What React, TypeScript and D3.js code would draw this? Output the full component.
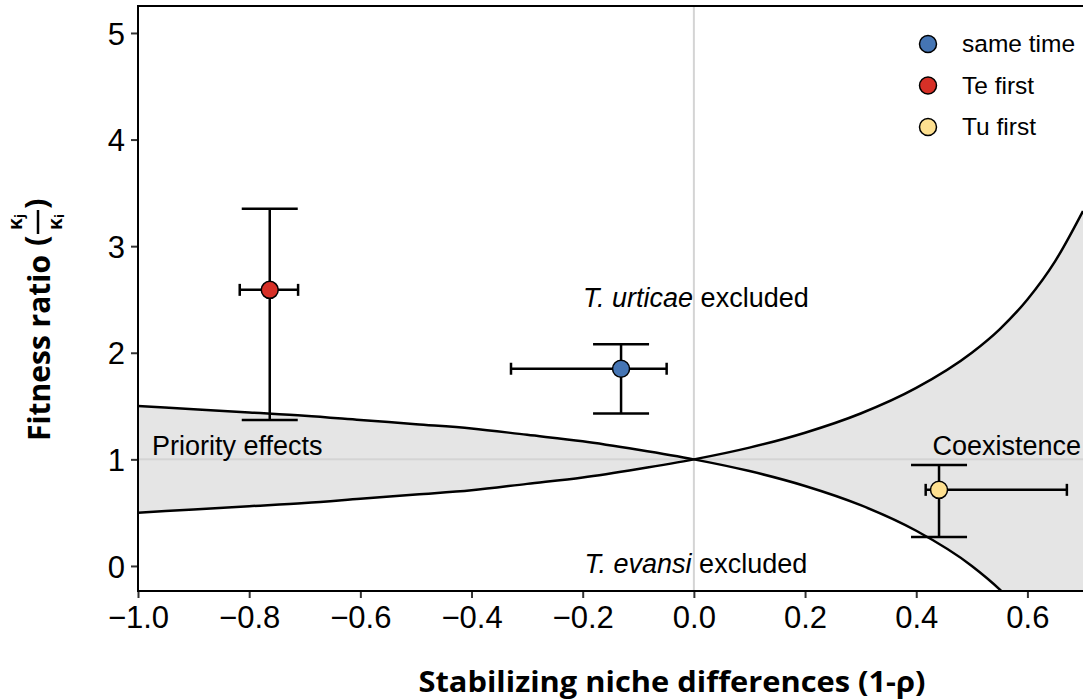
import { useEffect, useRef } from 'react';
import * as d3 from 'd3';

// boundary curves (x = 1-rho)
const boundaryX = [-1, -0.9, -0.8, -0.7, -0.6, -0.5, -0.4, -0.3, -0.2, -0.1, 0, 0.1, 0.2, 0.3, 0.4, 0.5, 0.55, 0.6, 0.65, 0.7];
const risingY = [0.5, 0.53, 0.56, 0.59, 0.63, 0.67, 0.71, 0.77, 0.83, 0.91, 1.0, 1.11, 1.25, 1.43, 1.67, 2.0, 2.22, 2.5, 2.86, 3.33];
const fallingY = [1.5, 1.47, 1.44, 1.41, 1.37, 1.33, 1.29, 1.23, 1.17, 1.09, 1.0, 0.89, 0.75, 0.57, 0.33, 0.0, -0.22, -0.5, -0.86, -1.33];

// treatments
const treatments = ['same time', 'Te first', 'Tu first'];
const colors = ['#4575b4', '#d73027', '#fee090'];
const niche = [-0.131, -0.763, 0.441];
const nicheLo = [-0.329, -0.817, 0.417];
const nicheHi = [-0.049, -0.712, 0.671];
const fitness = [1.85, 2.59, 0.714];
const fitnessLo = [1.43, 1.37, 0.272];
const fitnessHi = [2.08, 3.35, 0.948];

const xTicks = [-1.0, -0.8, -0.6, -0.4, -0.2, 0.0, 0.2, 0.4, 0.6];
const yTicks = [0, 1, 2, 3, 4, 5];

export default function App() {
  const svgRef = useRef<SVGSVGElement>(null);

  useEffect(() => {
    if (!svgRef.current) return;
    const svg = d3.select(svgRef.current);
    svg.selectAll('*').remove();

    const W = 1083, H = 700;
    const left = 138, right = 1083, top = 6, bottom = 591;
    svg.attr('width', W).attr('height', H);

    const x = d3.scaleLinear().domain([-1, 0.7]).range([left, right]);
    const y = d3.scaleLinear().domain([-0.235, 5.253]).range([bottom, top]);

    svg.append('defs').append('clipPath').attr('id', 'plot-clip')
      .append('rect').attr('x', left).attr('y', top)
      .attr('width', right - left).attr('height', bottom - top);

    const plot = svg.append('g').attr('clip-path', 'url(#plot-clip)');

    const pts = boundaryX.map((bx, i) => ({ x: bx, a: risingY[i], b: fallingY[i] }));

    // shaded regions between the two boundaries
    const area = d3.area<{ x: number; a: number; b: number }>()
      .x(d => x(d.x)).y0(d => y(d.a)).y1(d => y(d.b))
      .curve(d3.curveMonotoneX);
    plot.append('path').datum(pts).attr('d', area).attr('fill', '#e5e5e5');

    // reference lines
    plot.append('line')
      .attr('x1', x(0)).attr('x2', x(0)).attr('y1', top).attr('y2', bottom)
      .attr('stroke', '#d4d4d4').attr('stroke-width', 2);
    plot.append('line')
      .attr('x1', left).attr('x2', right).attr('y1', y(1)).attr('y2', y(1))
      .attr('stroke', '#d4d4d4').attr('stroke-width', 2);

    const lineA = d3.line<{ x: number; a: number; b: number }>()
      .x(d => x(d.x)).y(d => y(d.a)).curve(d3.curveMonotoneX);
    const lineB = d3.line<{ x: number; a: number; b: number }>()
      .x(d => x(d.x)).y(d => y(d.b)).curve(d3.curveMonotoneX);
    plot.append('path').datum(pts).attr('d', lineA)
      .attr('fill', 'none').attr('stroke', '#000').attr('stroke-width', 2.5);
    plot.append('path').datum(pts).attr('d', lineB)
      .attr('fill', 'none').attr('stroke', '#000').attr('stroke-width', 2.5);

    // annotations
    const annFont = '"Liberation Sans", Arial, Helvetica, sans-serif';
    const t1 = svg.append('text').attr('x', x(0) + 2).attr('y', 307)
      .attr('text-anchor', 'middle').attr('font-family', annFont).attr('font-size', 27);
    t1.append('tspan').attr('font-style', 'italic').text('T. urticae');
    t1.append('tspan').text(' excluded');
    const t2 = svg.append('text').attr('x', x(0) + 2).attr('y', 573)
      .attr('text-anchor', 'middle').attr('font-family', annFont).attr('font-size', 27);
    t2.append('tspan').attr('font-style', 'italic').text('T. evansi');
    t2.append('tspan').text(' excluded');
    svg.append('text').attr('x', 152).attr('y', 455)
      .attr('font-family', annFont).attr('font-size', 27).text('Priority effects');
    svg.append('text').attr('x', 1081).attr('y', 455).attr('text-anchor', 'end')
      .attr('font-family', annFont).attr('font-size', 27).text('Coexistence');

    // error bars and points
    const idx = d3.range(treatments.length);
    const eb = plot.append('g').attr('stroke', '#000').attr('stroke-width', 2.5);
    idx.forEach(i => {
      const cx = x(niche[i]), cy = y(fitness[i]);
      eb.append('line').attr('x1', cx).attr('x2', cx).attr('y1', y(fitnessLo[i])).attr('y2', y(fitnessHi[i]));
      eb.append('line').attr('x1', cx - 28).attr('x2', cx + 28).attr('y1', y(fitnessLo[i])).attr('y2', y(fitnessLo[i]));
      eb.append('line').attr('x1', cx - 28).attr('x2', cx + 28).attr('y1', y(fitnessHi[i])).attr('y2', y(fitnessHi[i]));
      eb.append('line').attr('x1', x(nicheLo[i])).attr('x2', x(nicheHi[i])).attr('y1', cy).attr('y2', cy);
      eb.append('line').attr('x1', x(nicheLo[i])).attr('x2', x(nicheLo[i])).attr('y1', cy - 6).attr('y2', cy + 6);
      eb.append('line').attr('x1', x(nicheHi[i])).attr('x2', x(nicheHi[i])).attr('y1', cy - 6).attr('y2', cy + 6);
    });
    plot.append('g').selectAll('circle').data(idx).join('circle')
      .attr('cx', i => x(niche[i])).attr('cy', i => y(fitness[i])).attr('r', 8.5)
      .attr('fill', i => colors[i]).attr('stroke', '#000').attr('stroke-width', 1.5);

    // axes
    const tickFont = '"Liberation Sans", Arial, Helvetica, sans-serif';
    const gx = svg.append('g').attr('transform', `translate(0,${bottom})`)
      .call(d3.axisBottom(x).tickValues(xTicks).tickSize(7).tickPadding(8)
        .tickFormat(d => d3.format('.1f')(d as number).replace('-', '\u2013')));
    gx.select('.domain').remove();
    gx.selectAll('.tick line').attr('stroke', '#333').attr('stroke-width', 2);
    gx.selectAll('.tick text').attr('font-family', tickFont).attr('font-size', 31).attr('fill', '#000');

    const gy = svg.append('g').attr('transform', `translate(${left},0)`)
      .call(d3.axisLeft(y).tickValues(yTicks).tickSize(7).tickPadding(6)
        .tickFormat(d => d3.format('d')(d as number)));
    gy.select('.domain').remove();
    gy.selectAll('.tick line').attr('stroke', '#333').attr('stroke-width', 2);
    gy.selectAll('.tick text').attr('font-family', tickFont).attr('font-size', 31)
      .attr('fill', '#000').attr('dy', '0.36em');

    // panel border
    svg.append('rect').attr('x', left).attr('y', top)
      .attr('width', right - left + 2).attr('height', bottom - top)
      .attr('fill', 'none').attr('stroke', '#000').attr('stroke-width', 2);

    // axis titles
    const titleFont = '"Open Sans", "Noto Sans", sans-serif';
    svg.append('text').attr('x', 672).attr('y', 692).attr('text-anchor', 'middle')
      .attr('font-family', titleFont).attr('font-weight', 700).attr('font-size', 29)
      .attr('textLength', 507).attr('lengthAdjust', 'spacingAndGlyphs')
      .text('Stabilizing niche differences (1-\u03c1)');

    const yt = svg.append('g').attr('transform', 'translate(50,441) rotate(-90)')
      .attr('font-family', titleFont).attr('font-weight', 700).attr('fill', '#000');
    yt.append('text').attr('x', 0).attr('y', 0).attr('font-size', 31)
      .attr('textLength', 186).attr('lengthAdjust', 'spacingAndGlyphs')
      .text('Fitness ratio');
    yt.append('text').attr('x', 195).attr('y', -3).attr('font-size', 31).text('(');
    yt.append('text').attr('x', 232).attr('y', -3).attr('font-size', 31).text(')');
    yt.append('line').attr('x1', 207).attr('x2', 231).attr('y1', -12).attr('y2', -12)
      .attr('stroke', '#000').attr('stroke-width', 2.5);
    const num = yt.append('text').attr('x', 219).attr('y', -28).attr('text-anchor', 'middle').attr('font-size', 19);
    num.append('tspan').text('\u03ba');
    num.append('tspan').attr('font-size', 13).attr('dy', 2).text('j');
    const den = yt.append('text').attr('x', 219).attr('y', 12).attr('text-anchor', 'middle').attr('font-size', 19);
    den.append('tspan').text('\u03ba');
    den.append('tspan').attr('font-size', 13).attr('dy', 2).text('i');

    // legend
    const lg = svg.append('g');
    idx.forEach(i => {
      const ly = 44 + i * 41.5;
      lg.append('circle').attr('cx', 928).attr('cy', ly).attr('r', 8.5)
        .attr('fill', colors[i]).attr('stroke', '#000').attr('stroke-width', 1.5);
      lg.append('text').attr('x', 962).attr('y', ly + 8)
        .attr('font-family', annFont).attr('font-size', 24.5).text(treatments[i]);
    });
  }, []);

  return (
    <svg ref={svgRef} style={{ position: 'absolute', left: 0, top: 0, background: '#fff' }} />
  );
}
